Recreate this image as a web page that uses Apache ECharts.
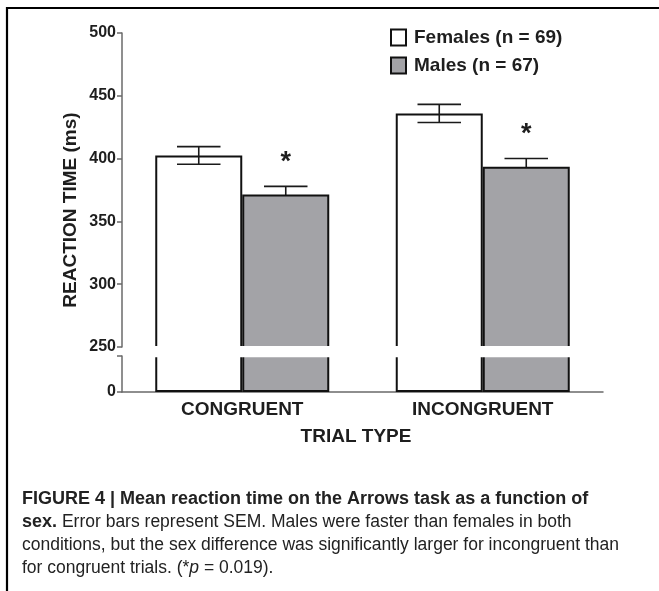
<!DOCTYPE html>
<html>
<head>
<meta charset="utf-8">
<script src="https://cdn.jsdelivr.net/npm/echarts@6/dist/echarts.min.js"></script>
<style>
html,body{margin:0;padding:0;background:#fff;}
#main{width:659px;height:591px;}
</style>
</head>
<body>
<div id="main"></div>
<script>
// ---- data ----
const categories = ['CONGRUENT', 'INCONGRUENT'];
const seriesNames = ['Females (n = 69)', 'Males (n = 67)'];
const femaleMeans = [402.5, 436];
const maleMeans = [371.5, 393.5];
const femaleSEM = [7, 7.2];
const maleSEM = [6.4, 6.6];
const sigMarks = ['*', '*'];
const upperAxis = { min: 250, max: 500, interval: 50 };
const lowerAxis = { min: 0, max: 250, interval: 250 };
const lowerLabels = ['0'];
const yTitle = 'REACTION TIME (ms)';
const xTitle = 'TRIAL TYPE';
const captionLines = [
  '{b|FIGURE 4 | Mean reaction time on the Arrows task as a function of}',
  '{b|sex.} Error bars represent SEM. Males were faster than females in both',
  'conditions, but the sex difference was significantly larger for incongruent than',
  'for congruent trials. (*{i|p} = 0.019).'
];

// ---- style constants ----
const BAR_W = 87;
const FONT = '"Liberation Sans", Arial, Helvetica, sans-serif';
const AXIS_COLOR = '#6a6a6a';
const TXT = '#1e1e1e';
const GREY = '#a3a3a7';

const chart = echarts.init(document.getElementById('main'), null, { renderer: 'canvas' });

function errRender(sign, withMark) {
  return function (params, api) {
    const i = api.value(0), m = api.value(1), s = api.value(2);
    const hi = api.coord([i, m + s]);
    const lo = api.coord([i, m - s]);
    const x = hi[0] + sign * BAR_W / 2;
    const cap = BAR_W / 4;
    const st = { stroke: '#1a1a1a', lineWidth: 1.6 };
    const children = [
      { type: 'line', shape: { x1: x, y1: hi[1], x2: x, y2: lo[1] }, style: st },
      { type: 'line', shape: { x1: x - cap, y1: hi[1], x2: x + cap, y2: hi[1] }, style: st },
      { type: 'line', shape: { x1: x - cap, y1: lo[1], x2: x + cap, y2: lo[1] }, style: st }
    ];
    if (withMark) {
      children.push({
        type: 'text',
        style: {
          text: sigMarks[params.dataIndex], x: x, y: hi[1] - 24,
          font: 'bold 27px ' + FONT, fill: TXT, align: 'center', verticalAlign: 'middle'
        }
      });
    }
    return { type: 'group', children: children };
  };
}

const barStyleF = { color: '#ffffff', borderColor: '#111', borderWidth: 2 };
const barStyleM = { color: GREY, borderColor: '#111', borderWidth: 2 };

const option = {
  backgroundColor: '#ffffff',
  animation: false,
  textStyle: { fontFamily: FONT },
  legend: {
    orient: 'vertical', left: 385, top: 23, itemWidth: 15, itemHeight: 16, itemGap: 9,
    icon: 'rect',
    textStyle: { fontSize: 19, fontWeight: 'bold', color: TXT, fontFamily: FONT, padding: [0, 0, 0, 3] },
    data: seriesNames
  },
  grid: [
    { left: 122, right: 56, top: 33, height: 314 },
    { left: 122, right: 56, top: 356, height: 36 }
  ],
  xAxis: [
    { type: 'category', gridIndex: 0, data: categories, show: false },
    {
      type: 'category', gridIndex: 1, data: categories,
      axisLine: { lineStyle: { color: AXIS_COLOR, width: 1.5 } },
      axisTick: { show: false },
      axisLabel: { fontSize: 19, fontWeight: 'bold', color: TXT, margin: 8, fontFamily: FONT }
    }
  ],
  yAxis: [
    {
      type: 'value', gridIndex: 0, min: upperAxis.min, max: upperAxis.max, interval: upperAxis.interval,
      splitLine: { show: false },
      axisLine: { show: true, lineStyle: { color: AXIS_COLOR, width: 1.5 } },
      axisTick: { show: true, length: 5, lineStyle: { color: AXIS_COLOR, width: 1.5 } },
      axisLabel: { fontSize: 16, fontWeight: 'bold', color: TXT, margin: 6, fontFamily: FONT }
    },
    {
      type: 'value', gridIndex: 1, min: lowerAxis.min, max: lowerAxis.max, interval: lowerAxis.interval,
      splitLine: { show: false },
      axisLine: { show: true, lineStyle: { color: AXIS_COLOR, width: 1.5 } },
      axisTick: { show: true, length: 5, lineStyle: { color: AXIS_COLOR, width: 1.5 } },
      axisLabel: {
        fontSize: 16, fontWeight: 'bold', color: TXT, margin: 6, fontFamily: FONT,
        formatter: function (v) { return lowerLabels.indexOf(String(v)) >= 0 ? String(v) : ''; }
      }
    }
  ],
  series: [
    { name: seriesNames[0], type: 'bar', xAxisIndex: 0, yAxisIndex: 0, data: femaleMeans, barWidth: BAR_W, barGap: '0%', itemStyle: barStyleF, clip: true, z: 2 },
    { name: seriesNames[1], type: 'bar', xAxisIndex: 0, yAxisIndex: 0, data: maleMeans, barWidth: BAR_W, barGap: '0%', itemStyle: barStyleM, clip: true, z: 2 },
    { name: seriesNames[0], type: 'bar', xAxisIndex: 1, yAxisIndex: 1, data: femaleMeans, barWidth: BAR_W, barGap: '0%', itemStyle: barStyleF, clip: true, z: 2 },
    { name: seriesNames[1], type: 'bar', xAxisIndex: 1, yAxisIndex: 1, data: maleMeans, barWidth: BAR_W, barGap: '0%', itemStyle: barStyleM, clip: true, z: 2 },
    {
      type: 'custom', xAxisIndex: 0, yAxisIndex: 0, z: 3, silent: true,
      renderItem: errRender(-1, false),
      data: femaleMeans.map((m, i) => [i, m, femaleSEM[i]])
    },
    {
      type: 'custom', xAxisIndex: 0, yAxisIndex: 0, z: 1, silent: true,
      renderItem: errRender(1, true),
      data: maleMeans.map((m, i) => [i, m, maleSEM[i]])
    }
  ],
  graphic: [
    // break band across the bars
    { type: 'rect', z: 100, shape: { x: 148, y: 346, width: 432, height: 11.2 }, style: { fill: '#ffffff' } },
    // frame
    { type: 'line', z: 100, shape: { x1: 6, y1: 8, x2: 659, y2: 8 }, style: { stroke: '#000', lineWidth: 2.2 } },
    { type: 'line', z: 100, shape: { x1: 7, y1: 7, x2: 7, y2: 591 }, style: { stroke: '#000', lineWidth: 2.2 } },
    // axis titles
    { type: 'text', z: 100, x: 71, y: 210, rotation: Math.PI / 2,
      style: { text: yTitle, font: 'bold 19px ' + FONT, fill: TXT, align: 'center', verticalAlign: 'middle' } },
    { type: 'text', z: 100, x: 356, y: 437,
      style: { text: xTitle, font: 'bold 19px ' + FONT, fill: TXT, align: 'center', verticalAlign: 'middle' } }
  ].concat(captionLines.map((t, k) => ({
    type: 'text', z: 100, x: 22, y: 499 + k * 23,
    style: {
      text: t, fontSize: 17.5, fontFamily: FONT, fill: '#222', align: 'left', verticalAlign: 'middle',
      rich: {
        b: { fontWeight: 'bold', fontSize: 18, fontFamily: FONT, fill: '#222' },
        i: { fontStyle: 'italic', fontSize: 17.5, fontFamily: FONT, fill: '#222' }
      }
    }
  })))
};
chart.setOption(option);
</script>
</body>
</html>
